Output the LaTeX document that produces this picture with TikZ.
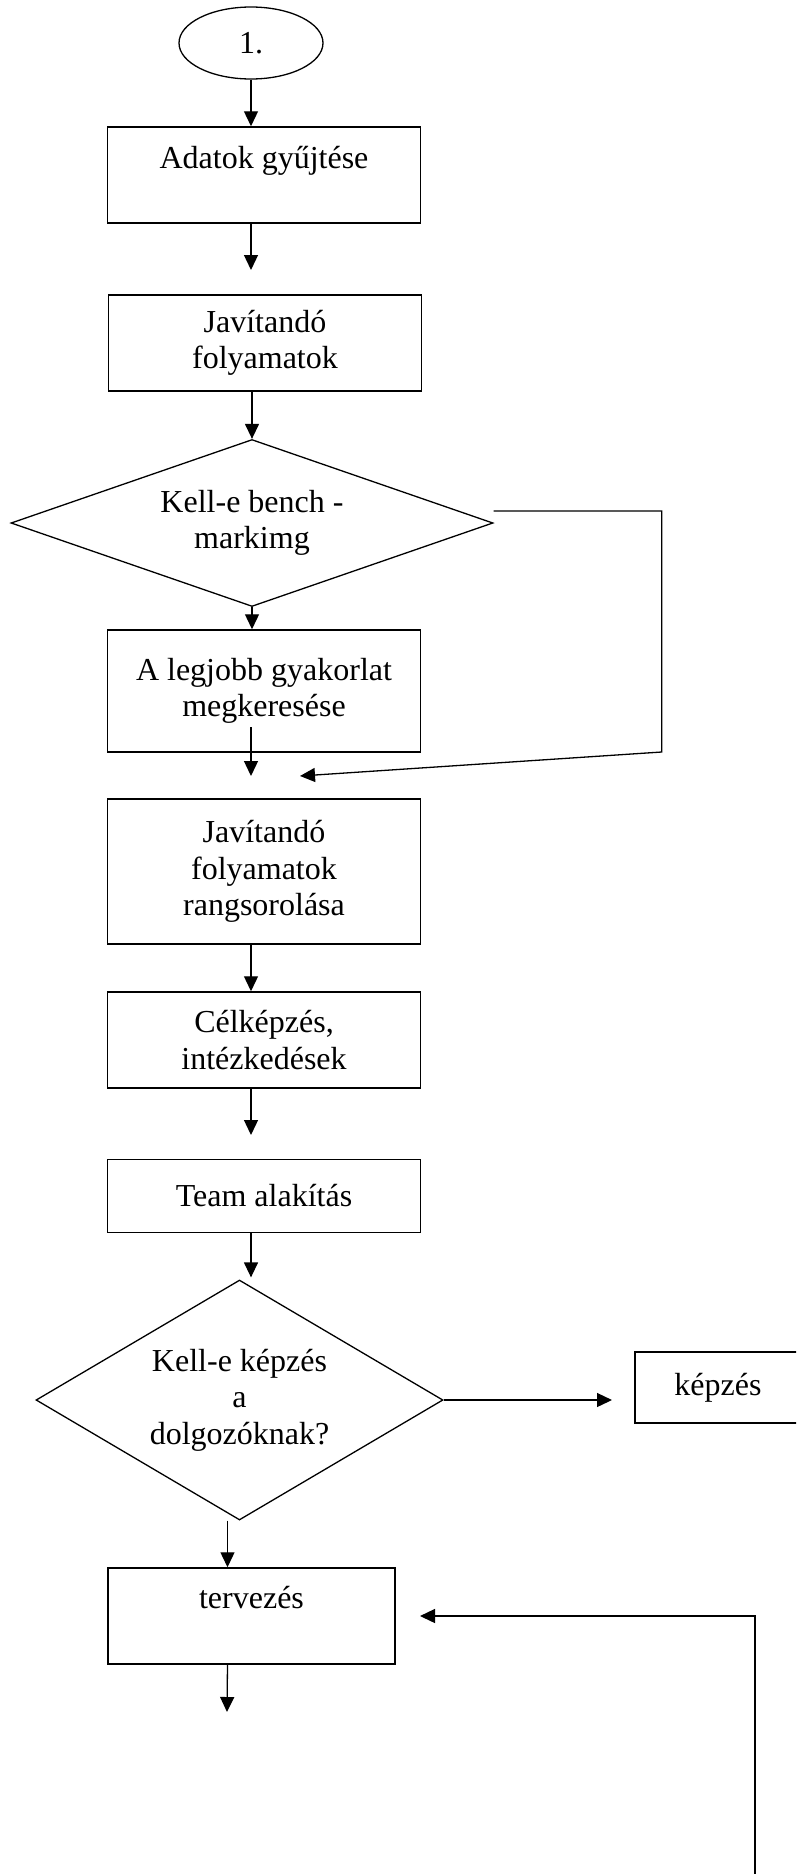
\documentclass[tikz,border=0pt]{standalone}
\usepackage{fontspec}
\setmainfont{Liberation Serif}
\usetikzlibrary{arrows.meta,positioning,shapes.geometric}

\begin{document}
\begin{tikzpicture}[x=1pt, y=-1pt, font=\fontsize{32}{36.5}\selectfont,
    stepbox/.style={draw, line width=1.5pt, rectangle, align=center,
        minimum width=313pt, inner sep=0pt},
    decide/.style={draw, line width=1.3pt, diamond, align=center, inner sep=0pt},
    conn/.style={line width=1.3pt, -{Triangle[length=15pt, width=14pt]}}]
  \useasboundingbox (0,0) rectangle (796,1874);
  \clip (0,0) rectangle (796,1874);
  \node[draw, ellipse, line width=1.3pt, minimum width=144pt,
        minimum height=72pt, inner sep=0pt] (start) at (251,43) {1.};
  \node[stepbox, text height=41pt, text depth=55pt] (adatok) at (264,175) {Adatok gyűjtése};
  \node[stepbox, minimum height=96pt] (javit) at (265,343) {Javítandó\\folyamatok};
  \node[decide, minimum width=482pt, minimum height=167pt, aspect=2.9] (bench)
        at (252,523) {Kell-e bench -\\markimg};
  \node[stepbox, minimum height=122pt] (legjobb) at (264,691) {A legjobb gyakorlat\\megkeresése};
  \node[stepbox, minimum height=145pt] (rangsor) at (264,871.5) {Javítandó\\folyamatok\\rangsorolása};
  \node[stepbox, minimum height=96pt] (cel) at (264,1040) {Célképzés,\\intézkedések};
  \node[stepbox, minimum height=73pt] (team) at (264,1196) {Team alakítás};
  \node[decide, minimum width=407pt, minimum height=240pt, aspect=1.7] (kepzkell)
        at (239.5,1400) {Kell-e képzés\\a\\dolgozóknak?};
  \node[stepbox, minimum width=166pt, minimum height=71pt] (kepzes) at (718,1387.5) {képzés};
  \node[stepbox, minimum width=287pt, text height=40pt, text depth=56pt] (terv)
        at (251.5,1616) {tervezés};

  \coordinate (tipa) at (251,270);
  \coordinate (bentry) at (300,776);
  \coordinate (lfrom) at (251,727);
  \coordinate (lto) at (251,776);
  \coordinate (tipc) at (251,1135);
  \coordinate (tipk) at (612,1400);
  \coordinate (kbot) at ([xshift=-12pt]kepzkell.south);
  \coordinate (tipt) at (227,1712);
  \coordinate (rbot) at (755,1880);
  \coordinate (rtip) at (420,1616);

  \draw[conn] (start.south) -- (start.south |- adatok.north);
  \draw[conn] (adatok.south -| start) -- (tipa);
  \draw[conn] (javit.south -| bench) -- (bench.north);
  \draw[conn] ([yshift=12pt]bench.east) -- ++(168,0) -- ++(0,241) -- (bentry);
  \draw[conn] (bench.south) -- (bench.south |- legjobb.north);
  \draw[conn] (lfrom) -- (lto);
  \draw[conn] (rangsor.south -| start) -- (start |- cel.north);
  \draw[conn] (cel.south -| start) -- (tipc);
  \draw[conn] (team.south -| start) -- ([yshift=2pt]start |- kepzkell.north);
  \draw[conn] (kepzkell.east) -- (tipk);
  \draw[conn] (kbot) -- (kbot |- terv.north);
  \draw[conn] (kbot |- terv.south) -- (tipt);
  \draw[conn] (rbot) |- (rtip);
\end{tikzpicture}
\end{document}
